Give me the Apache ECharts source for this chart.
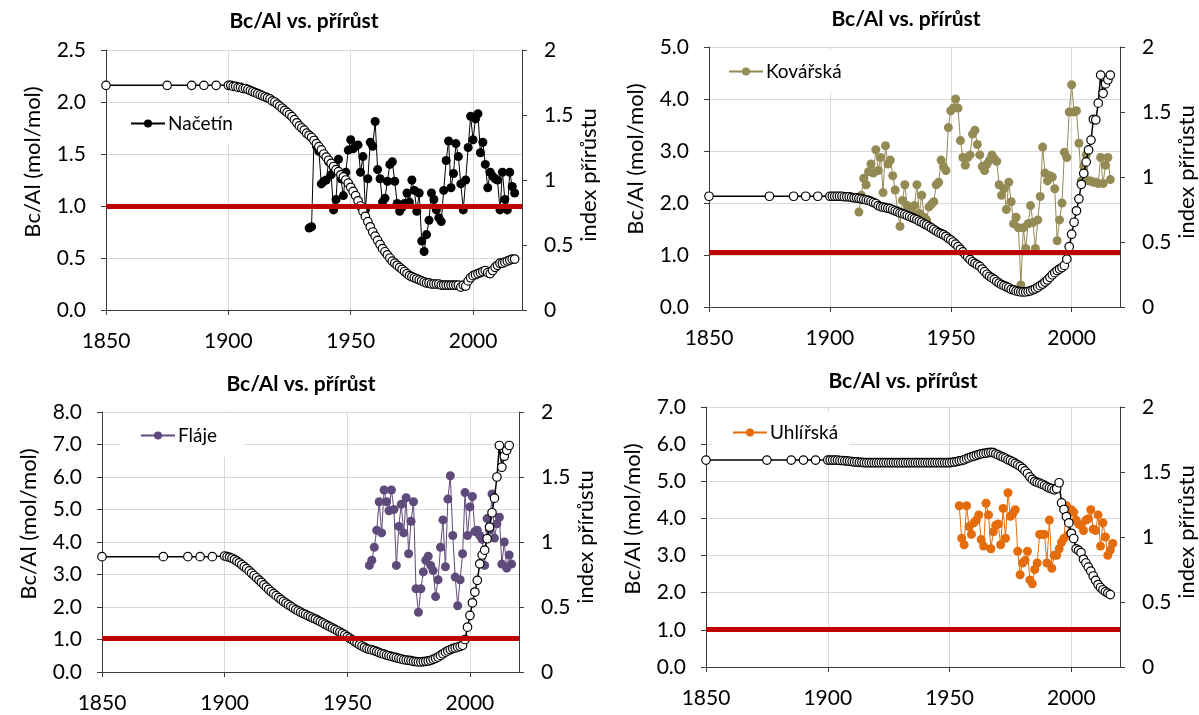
<!DOCTYPE html>
<html>
<head>
<meta charset="utf-8">
<script src="https://cdn.jsdelivr.net/npm/echarts@6/dist/echarts.min.js"></script>
<style>
html,body{margin:0;padding:0;background:#fff;}
#chart{width:1199px;height:715px;}
</style>
</head>
<body>
<div id="chart"></div>
<script>
// ---------------- DATA ----------------
const titleText = 'Bc/Al vs. přírůst';
const leftAxisName = 'Bc/Al (mol/mol)';
const rightAxisName = 'index přírůstu';
const xTicks = [1850, 1900, 1950, 2000];

const siteNames = ['Načetín', 'Kovářská', 'Fláje', 'Uhlířská'];
const siteColors = ['#000000', '#948A54', '#5F4B7B', '#E46C0A'];
const leftMax = [2.5, 5, 8, 7];
const leftInterval = [0.5, 1, 1, 1];
const thresholdValues = [1.0, 1.05, 1.05, 1.02];

// Bc/Al: sparse early years, then yearly from 1900
const earlyYears = [1850, 1875, 1885, 1890, 1895];
const bcAlStartYear = 1900;

const nacetinBcAlEarly = [2.16, 2.16, 2.16, 2.16, 2.16];
const nacetinBcAl = [
 2.16,2.16,2.15,2.15,2.14,2.14,2.13,2.13,2.12,2.11,
 2.10,2.09,2.08,2.07,2.06,2.05,2.04,2.03,2.01,2.00,
 1.98,1.96,1.94,1.92,1.90,1.88,1.86,1.83,1.80,1.77,
 1.75,1.73,1.70,1.68,1.66,1.63,1.60,1.57,1.54,1.50,
 1.47,1.44,1.41,1.38,1.35,1.33,1.30,1.28,1.25,1.22,
 1.18,1.14,1.10,1.05,1.00,0.95,0.90,0.85,0.80,0.75,
 0.71,0.67,0.63,0.59,0.56,0.53,0.50,0.47,0.45,0.43,
 0.41,0.39,0.37,0.35,0.33,0.32,0.31,0.30,0.29,0.28,
 0.27,0.26,0.26,0.25,0.25,0.25,0.25,0.24,0.24,0.24,
 0.24,0.24,0.24,0.24,0.24,0.22,0.24,0.23,0.28,0.31,
 0.33,0.34,0.35,0.36,0.37,0.38,0.36,0.35,0.38,0.41,
 0.43,0.45,0.45,0.46,0.47,0.48,0.49,0.49];

const kovarskaBcAlEarly = [2.13, 2.13, 2.13, 2.13, 2.13];
const kovarskaBcAl = [
 2.13,2.13,2.13,2.13,2.13,2.13,2.12,2.12,2.12,2.11,
 2.10,2.10,2.09,2.08,2.07,2.06,2.05,2.03,2.01,1.99,
 1.95,1.93,1.92,1.91,1.90,1.89,1.87,1.85,1.83,1.81,
 1.80,1.78,1.76,1.74,1.72,1.70,1.68,1.65,1.63,1.60,
 1.58,1.55,1.52,1.49,1.46,1.43,1.41,1.39,1.36,1.32,
 1.29,1.25,1.21,1.16,1.11,1.06,1.01,0.96,0.91,0.87,
 0.84,0.81,0.78,0.73,0.68,0.63,0.59,0.56,0.53,0.49,
 0.46,0.43,0.41,0.39,0.37,0.34,0.33,0.31,0.30,0.29,
 0.29,0.29,0.30,0.31,0.33,0.35,0.38,0.41,0.44,0.48,
 0.52,0.57,0.62,0.66,0.70,0.73,0.76,0.80,0.92,1.16,
 1.40,1.63,1.85,2.08,2.36,2.57,2.79,3.02,3.21,3.61,
 3.60,3.92,4.46,4.11,4.29,4.37,4.46];

const flajeBcAlEarly = [3.55, 3.55, 3.55, 3.55, 3.55];
const flajeBcAl = [
 3.57,3.55,3.53,3.50,3.46,3.41,3.36,3.30,3.24,3.18,
 3.11,3.04,2.97,2.90,2.83,2.76,2.68,2.61,2.54,2.47,
 2.41,2.35,2.29,2.23,2.17,2.12,2.07,2.02,1.97,1.92,
 1.88,1.84,1.80,1.77,1.73,1.70,1.66,1.63,1.59,1.55,
 1.51,1.47,1.43,1.39,1.35,1.31,1.27,1.23,1.19,1.14,
 1.09,1.04,0.99,0.94,0.89,0.84,0.80,0.76,0.72,0.70,
 0.68,0.66,0.63,0.60,0.57,0.55,0.52,0.50,0.48,0.46,
 0.44,0.42,0.40,0.38,0.37,0.36,0.35,0.33,0.32,0.31,
 0.31,0.32,0.33,0.34,0.36,0.39,0.42,0.46,0.51,0.56,
 0.61,0.65,0.69,0.72,0.74,0.77,0.79,0.82,1.00,1.38,
 1.74,2.13,2.46,2.82,3.33,3.60,3.75,4.10,4.46,4.90,
 5.35,6.00,6.97,6.30,6.64,6.82,6.97];

const uhlirskaBcAlEarly = [5.57, 5.57, 5.57, 5.57, 5.57];
const uhlirskaBcAl = [
 5.57,5.57,5.57,5.57,5.57,5.56,5.56,5.55,5.55,5.54,
 5.53,5.52,5.52,5.51,5.51,5.50,5.50,5.50,5.50,5.50,
 5.50,5.50,5.50,5.50,5.50,5.50,5.50,5.50,5.50,5.50,
 5.50,5.50,5.50,5.50,5.50,5.50,5.50,5.50,5.50,5.50,
 5.50,5.50,5.50,5.50,5.50,5.50,5.50,5.50,5.50,5.50,
 5.50,5.51,5.52,5.53,5.55,5.56,5.58,5.61,5.63,5.66,
 5.68,5.70,5.72,5.74,5.75,5.76,5.77,5.78,5.77,5.74,
 5.71,5.68,5.65,5.62,5.58,5.56,5.52,5.48,5.44,5.40,
 5.35,5.28,5.21,5.12,5.05,5.00,4.97,4.95,4.92,4.89,
 4.85,4.82,4.80,4.77,4.80,4.96,4.42,4.24,4.05,3.88,
 3.60,3.46,3.18,3.14,3.08,2.90,2.80,2.69,2.58,2.45,
 2.33,2.22,2.14,2.08,2.03,1.99,1.95];

// Growth index (right axis), yearly from its start year
const nacetinGrowthStart = 1933;
const nacetinGrowth = [
 0.63,0.64,1.31,1.26,1.22,0.97,0.99,1.00,1.14,1.04,
 0.77,0.85,1.16,1.01,0.88,1.06,1.23,1.31,1.24,1.26,
 1.27,1.06,1.18,0.77,1.01,1.29,1.26,1.45,1.08,1.01,
 0.83,0.86,0.99,1.12,1.14,0.99,0.82,0.76,0.79,0.82,
 0.90,0.83,1.00,0.92,0.76,0.90,0.53,0.45,0.58,0.69,
 0.90,0.85,0.77,0.71,0.68,0.92,1.15,1.30,0.94,1.05,
 1.28,1.18,0.97,0.77,1.00,1.25,1.49,1.31,1.47,1.51,
 1.21,1.29,1.12,0.94,1.06,1.03,1.01,1.00,0.77,1.06,
 0.85,0.77,1.06,0.95,0.90];

const kovarskaGrowthStart = 1912;
const kovarskaGrowth = [
 0.73,0.86,0.99,0.94,1.04,1.10,1.03,1.21,1.05,1.15,
 0.88,1.24,1.10,1.13,1.01,0.90,0.74,0.62,0.82,0.94,
 0.78,0.77,0.72,0.78,0.94,0.72,0.86,0.69,0.67,0.77,
 0.79,0.81,0.94,0.96,1.13,1.08,1.05,1.38,1.51,1.53,
 1.60,1.53,1.28,1.15,1.09,1.15,1.17,1.33,1.36,1.25,
 1.17,1.08,1.05,1.10,1.13,1.17,1.14,1.12,0.94,0.86,
 0.91,0.75,0.96,0.81,0.64,0.69,0.61,0.17,0.61,0.45,
 0.64,0.78,0.65,0.45,0.67,0.85,1.23,1.03,0.97,1.01,
 1.00,0.91,0.51,0.67,0.80,1.19,1.15,1.50,1.71,1.50,
 1.51,1.26,0.97,1.08,1.17,0.97,0.97,0.96,0.96,0.95,
 1.15,0.95,1.09,1.15,0.98];

const flajeGrowthStart = 1959;
const flajeGrowth = [
 0.82,0.86,0.96,1.09,1.31,1.07,1.40,1.31,1.24,1.40,
 1.25,0.82,1.12,1.29,1.07,1.34,0.91,1.16,1.31,0.64,
 0.46,0.64,0.77,0.86,0.89,0.82,0.78,0.58,0.71,0.96,
 1.17,0.81,1.33,1.51,1.05,0.73,0.51,0.71,0.91,1.38,
 1.05,1.27,1.35,1.08,1.09,1.05,1.02,0.82,1.18,1.09,
 1.37,1.03,1.14,1.19,0.83,1.00,0.80,0.90,0.83];

const uhlirskaGrowthStart = 1954;
const uhlirskaGrowth = [
 1.24,0.99,0.94,1.24,1.08,1.02,1.11,1.13,1.17,0.98,
 0.93,1.26,1.17,0.91,1.04,1.09,1.10,0.94,1.22,0.99,
 1.34,1.16,1.18,1.21,0.89,0.71,0.80,0.82,0.89,0.67,
 0.64,0.75,0.80,1.02,1.02,1.02,0.80,1.13,0.76,0.86,
 0.86,0.91,0.96,0.99,1.24,1.02,1.21,1.19,1.13,1.10,
 1.09,1.05,1.13,1.14,1.21,1.06,1.05,1.17,0.93,1.11,
 1.00,0.86,0.90,0.95];

// ---------------- LAYOUT ----------------
const FONT = 'Lato, "Open Sans", "DejaVu Sans", sans-serif';
const grids = [
  {left: 106, top: 50, width: 416, height: 260},
  {left: 709, top: 47, width: 415, height: 260},
  {left: 102, top: 412, width: 417, height: 260},
  {left: 706, top: 407, width: 416, height: 260}
];
const titlePos = [{x: 304, y: 11}, {x: 906, y: 9}, {x: 301, y: 374}, {x: 903, y: 371}];
const legendPos = [
  {left: 112, top: 104, padding: [10, 6, 10, 18]},
  {left: 710, top: 50, padding: [12, 6, 12, 18]},
  {left: 120, top: 414, padding: [12, 28, 12, 20]},
  {left: 712, top: 412, padding: [11, 11, 11, 20]}
];

const bcAlEarly = [nacetinBcAlEarly, kovarskaBcAlEarly, flajeBcAlEarly, uhlirskaBcAlEarly];
const bcAlYearly = [nacetinBcAl, kovarskaBcAl, flajeBcAl, uhlirskaBcAl];
const growthStart = [nacetinGrowthStart, kovarskaGrowthStart, flajeGrowthStart, uhlirskaGrowthStart];
const growthVals = [nacetinGrowth, kovarskaGrowth, flajeGrowth, uhlirskaGrowth];

function bcAlPairs(i) {
  const out = earlyYears.map((y, k) => [y, bcAlEarly[i][k]]);
  bcAlYearly[i].forEach((v, k) => out.push([bcAlStartYear + k, v]));
  return out;
}
function growthPairs(i) {
  return growthVals[i].map((v, k) => [growthStart[i] + k, v]);
}

const axisColor = '#3c3c3c';
const gridColor = '#D9D9D9';

const option = {
  animation: false,
  backgroundColor: '#ffffff',
  textStyle: {fontFamily: FONT},
  title: titlePos.map(p => ({
    text: titleText, left: p.x, top: p.y, textAlign: 'center', padding: 0,
    textStyle: {fontFamily: FONT, fontSize: 21, fontWeight: 'bold', color: '#000'}
  })),
  legend: legendPos.map((p, i) => ({
    data: [siteNames[i]], left: p.left, top: p.top, padding: p.padding,
    backgroundColor: '#ffffff', itemWidth: 34, itemHeight: 10, itemGap: 4,
    selectedMode: false,
    textStyle: {fontFamily: FONT, fontSize: 19, color: '#000', padding: [0, 0, 0, -2]}
  })),
  grid: grids.map(g => Object.assign({containLabel: false}, g)),
  xAxis: grids.map((g, i) => ({
    gridIndex: i, type: 'value', min: 1850, max: 2020, interval: 50,
    axisLine: {show: true, onZero: false, lineStyle: {color: axisColor, width: 1}},
    axisTick: {show: true, length: 5, customValues: xTicks, lineStyle: {color: axisColor}},
    axisLabel: {
      fontFamily: FONT, fontSize: 21, color: '#000', margin: 21,
      formatter: v => (xTicks.indexOf(v) >= 0 ? String(v) : '')
    },
    splitLine: {show: true, lineStyle: {color: gridColor, width: 1}}
  })),
  yAxis: [],
  series: []
};

for (let i = 0; i < 4; i++) {
  option.yAxis.push({
    gridIndex: i, type: 'value', position: 'left', min: 0, max: leftMax[i], interval: leftInterval[i],
    name: leftAxisName, nameLocation: 'middle', nameGap: 62, nameRotate: 90,
    nameTextStyle: {fontFamily: FONT, fontSize: 22, color: '#000', padding: [0, 0, 0, 36]},
    axisLine: {show: true, lineStyle: {color: axisColor, width: 1}},
    axisTick: {show: true, length: 5, lineStyle: {color: axisColor}},
    axisLabel: {fontFamily: FONT, fontSize: 21, color: '#000', margin: 20, formatter: v => v.toFixed(1)},
    splitLine: {show: true, lineStyle: {color: gridColor, width: 1}}
  });
  option.yAxis.push({
    gridIndex: i, type: 'value', position: 'right', min: 0, max: 2, interval: 0.5,
    name: rightAxisName, nameLocation: 'middle', nameGap: 56, nameRotate: 90,
    nameTextStyle: {fontFamily: FONT, fontSize: 22, color: '#000', padding: [0, 0, 0, 10]},
    axisLine: {show: true, lineStyle: {color: axisColor, width: 1}},
    axisTick: {show: true, length: 5, lineStyle: {color: axisColor}},
    axisLabel: {fontFamily: FONT, fontSize: 21, color: '#000', margin: 22},
    splitLine: {show: false}
  });
  // threshold line
  option.series.push({
    type: 'line', name: 'threshold' + i, xAxisIndex: i, yAxisIndex: 2 * i, data: [], z: 1,
    markLine: {
      silent: true, symbol: ['none', 'none'], label: {show: false},
      lineStyle: {color: '#C00000', width: 5, type: 'solid'},
      emphasis: {disabled: true},
      data: [{yAxis: thresholdValues[i]}]
    }
  });
  // growth index
  option.series.push({
    type: 'line', name: siteNames[i], xAxisIndex: i, yAxisIndex: 2 * i + 1,
    data: growthPairs(i), symbol: 'circle', symbolSize: 9, z: 3,
    itemStyle: {color: siteColors[i]},
    lineStyle: {color: siteColors[i], width: 1},
    emphasis: {disabled: true}
  });
  // Bc/Al
  option.series.push({
    type: 'line', name: 'Bc/Al ' + siteNames[i], xAxisIndex: i, yAxisIndex: 2 * i,
    data: bcAlPairs(i), symbol: 'circle', symbolSize: 8.5, z: 4,
    itemStyle: {color: '#ffffff', borderColor: '#000000', borderWidth: 1.2},
    lineStyle: {color: '#000000', width: 1.5},
    emphasis: {disabled: true}
  });
}

const chart = echarts.init(document.getElementById('chart'), null, {renderer: 'canvas'});
chart.setOption(option);
</script>
</body>
</html>
